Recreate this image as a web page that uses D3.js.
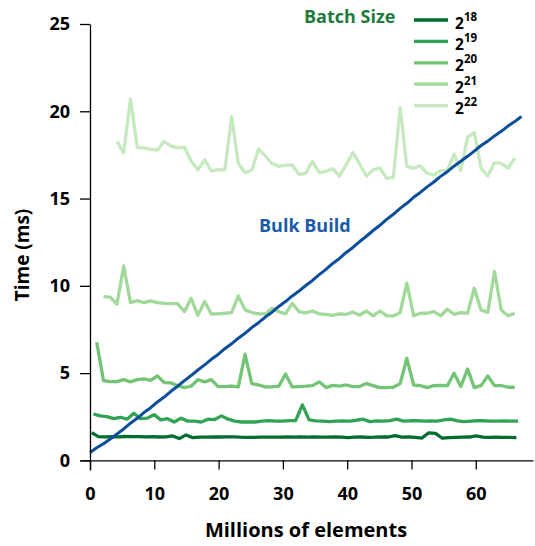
<!DOCTYPE html>
<html>
<head>
<meta charset="utf-8">
<script src="https://cdn.jsdelivr.net/npm/d3@7"></script>
<style>
  html, body { margin: 0; padding: 0; background: #fff; }
  svg { display: block; font-family: "Open Sans", Lato, "DejaVu Sans", sans-serif; font-weight: 700; }
</style>
</head>
<body>
<svg id="chart" width="535" height="546"></svg>
<script>
// Insert time per batch (ms) vs. number of elements already in the structure (millions).
// Each batch series starts at its own batch size and steps by 2^20 elements.
const STEP = Math.pow(2, 20) / 1e6;

const batchExponents = [18, 19, 20, 21, 22];
const batchColors = ["#006d2c", "#31a354", "#74c476", "#a1d99b", "#c7e9c0"];

const t18 = [1.59, 1.36, 1.35, 1.36, 1.35, 1.37, 1.36, 1.36, 1.35, 1.36, 1.34, 1.35, 1.40, 1.25, 1.46, 1.30,
  1.33, 1.33, 1.34, 1.34, 1.35, 1.35, 1.33, 1.32, 1.32, 1.33, 1.33, 1.33, 1.33, 1.34, 1.33, 1.34,
  1.33, 1.34, 1.33, 1.33, 1.34, 1.33, 1.31, 1.33, 1.34, 1.32, 1.33, 1.35, 1.34, 1.42, 1.33, 1.34,
  1.32, 1.28, 1.58, 1.55, 1.27, 1.31, 1.32, 1.33, 1.34, 1.40, 1.33, 1.32, 1.33, 1.32, 1.32, 1.31];

const t19 = [2.66, 2.55, 2.51, 2.39, 2.47, 2.36, 2.70, 2.39, 2.42, 2.62, 2.32, 2.39, 2.20, 2.42, 2.25, 2.25,
  2.20, 2.36, 2.34, 2.55, 2.36, 2.25, 2.20, 2.20, 2.20, 2.25, 2.28, 2.25, 2.25, 2.28, 2.28, 3.18,
  2.32, 2.27, 2.25, 2.22, 2.25, 2.27, 2.25, 2.30, 2.36, 2.22, 2.27, 2.25, 2.28, 2.36, 2.25, 2.27,
  2.28, 2.25, 2.27, 2.25, 2.32, 2.36, 2.27, 2.22, 2.25, 2.28, 2.27, 2.25, 2.25, 2.27, 2.25, 2.25];

const t20 = [6.77, 4.57, 4.51, 4.51, 4.63, 4.50, 4.63, 4.67, 4.59, 4.84, 4.46, 4.44, 4.28, 4.17, 4.25, 4.63,
  4.50, 4.63, 4.23, 4.23, 4.25, 4.21, 6.08, 4.40, 4.32, 4.21, 4.21, 4.25, 4.95, 4.21, 4.23, 4.25,
  4.28, 4.50, 4.17, 4.30, 4.25, 4.32, 4.23, 4.23, 4.40, 4.28, 4.17, 4.17, 4.19, 4.40, 5.85, 4.32,
  4.28, 4.17, 4.28, 4.30, 4.28, 4.99, 4.23, 5.24, 4.17, 4.28, 4.84, 4.28, 4.28, 4.19, 4.19];

const t21 = [9.38, 9.35, 8.96, 11.14, 9.04, 9.15, 9.04, 9.14, 9.04, 9.00, 8.98, 8.98, 8.52, 9.29, 8.31, 9.10,
  8.39, 8.39, 8.43, 8.47, 9.42, 8.62, 8.47, 8.39, 8.39, 8.72, 8.52, 8.39, 9.00, 8.52, 8.45, 8.56,
  8.39, 8.37, 8.31, 8.39, 8.37, 8.49, 8.33, 8.56, 8.28, 8.56, 8.28, 8.28, 8.47, 10.15, 8.29, 8.43,
  8.43, 8.52, 8.29, 8.66, 8.37, 8.47, 8.43, 9.86, 8.62, 8.47, 10.82, 8.62, 8.28, 8.43];

const t22 = [18.26, 17.63, 20.70, 17.92, 17.90, 17.82, 17.77, 18.28, 18.00, 17.90, 17.95, 17.15, 16.64, 17.21, 16.58, 16.66,
  16.64, 19.69, 17.02, 16.48, 16.64, 17.84, 17.44, 17.00, 16.85, 16.91, 16.91, 16.39, 16.45, 17.13, 16.48, 16.56,
  16.71, 16.29, 16.94, 17.63, 16.98, 16.29, 16.64, 16.75, 16.16, 16.22, 20.21, 16.83, 16.74, 16.87, 16.45, 16.35,
  16.60, 16.62, 17.55, 16.60, 18.51, 18.78, 16.74, 16.29, 17.06, 17.02, 16.74, 17.31];

// Bulk build time for the whole structure, every 2^20 elements from 0 to 2^26.
const bulkBuild = [0.45, 0.72, 0.95, 1.23, 1.51, 1.80, 2.13, 2.41, 2.74, 3.02, 3.35, 3.63, 3.96, 4.25, 4.57, 4.86,
  5.18, 5.47, 5.79, 6.07, 6.40, 6.68, 7.00, 7.28, 7.61, 7.89, 8.21, 8.49, 8.82, 9.10, 9.42, 9.70,
  10.02, 10.31, 10.64, 10.94, 11.28, 11.57, 11.91, 12.20, 12.54, 12.84, 13.17, 13.47, 13.81, 14.10, 14.44, 14.73,
  15.07, 15.35, 15.67, 15.95, 16.27, 16.54, 16.86, 17.14, 17.42, 17.72, 18.04, 18.29, 18.59, 18.85, 19.15, 19.41, 19.70];

const xTicks = [0, 10, 20, 30, 40, 50, 60];
const yTicks = [0, 5, 10, 15, 20, 25];

const batchSeries = [t18, t19, t20, t21, t22].map((vals, i) => {
  const start = Math.pow(2, batchExponents[i]) / 1e6;
  return {
    exp: batchExponents[i],
    color: batchColors[i],
    points: vals.map((v, j) => [start + j * STEP, v])
  };
});
const bulkPoints = bulkBuild.map((v, j) => [j * STEP, v]);

const svg = d3.select("#chart");

// Axes cross slightly past the origin on both sides.
const x = d3.scaleLinear().domain([-1.555, 68.9]).range([80, 533]);
const y = d3.scaleLinear().domain([-0.55, 25]).range([470, 24]);

const line = d3.line().x(d => x(d[0])).y(d => y(d[1]));

// Lightest series first so darker ones sit on top.
svg.append("g").selectAll("path")
  .data(batchSeries.slice().reverse())
  .join("path")
  .attr("d", d => line(d.points))
  .attr("fill", "none")
  .attr("stroke", d => d.color)
  .attr("stroke-width", 3.3)
  .attr("stroke-linejoin", "round");

svg.append("path")
  .attr("d", line(bulkPoints))
  .attr("fill", "none")
  .attr("stroke", "#0b4f9c")
  .attr("stroke-width", 3)
  .attr("stroke-linejoin", "round");

// Axes
const xAxis = svg.append("g")
  .attr("transform", `translate(0,${y(0)})`)
  .call(d3.axisBottom(x).tickValues(xTicks).tickSize(9).tickSizeOuter(0).tickPadding(18));
const yAxis = svg.append("g")
  .attr("transform", `translate(${x(0)},0)`)
  .call(d3.axisLeft(y).tickValues(yTicks).tickSize(10).tickSizeOuter(0).tickPadding(10));

[xAxis, yAxis].forEach(g => {
  g.select(".domain").attr("stroke", "#000").attr("stroke-width", 1.3);
  g.selectAll(".tick line").attr("stroke", "#000").attr("stroke-width", 1.3);
  g.selectAll(".tick text")
    .attr("fill", "#000")
    .style("font-family", "'Open Sans', Lato, sans-serif")
    .style("font-weight", 700)
    .style("font-size", "18px");
});

// Axis titles
svg.append("text")
  .attr("x", 306).attr("y", 537)
  .attr("text-anchor", "middle")
  .attr("fill", "#000")
  .style("font-size", "20px")
  .text("Millions of elements");

svg.append("text")
  .attr("transform", "translate(22,255) rotate(-90)")
  .attr("text-anchor", "middle")
  .attr("dominant-baseline", "central")
  .attr("fill", "#000")
  .style("font-size", "19px")
  .text("Time (ms)");

// Inline label for the bulk build line
svg.append("text")
  .attr("x", 259).attr("y", 231.5)
  .attr("fill", "#1a5aa6")
  .style("font-size", "18px")
  .text("Bulk Build");

// Legend
svg.append("text")
  .attr("x", 304).attr("y", 23)
  .attr("fill", "#1e7b3c")
  .style("font-size", "18px")
  .text("Batch Size");

const legend = svg.append("g").selectAll("g")
  .data(batchSeries)
  .join("g")
  .attr("transform", (d, i) => `translate(414,${20 + i * 21.4})`);

legend.append("line")
  .attr("x1", 0).attr("x2", 34)
  .attr("stroke", d => d.color)
  .attr("stroke-width", 3.3);

const lt = legend.append("text")
  .attr("x", 41).attr("y", 8.5)
  .attr("fill", "#000")
  .style("font-size", "15.5px");
lt.append("tspan").text("2");
lt.append("tspan")
  .attr("dy", -8)
  .style("font-size", "11.5px")
  .text(d => d.exp);
</script>
</body>
</html>
